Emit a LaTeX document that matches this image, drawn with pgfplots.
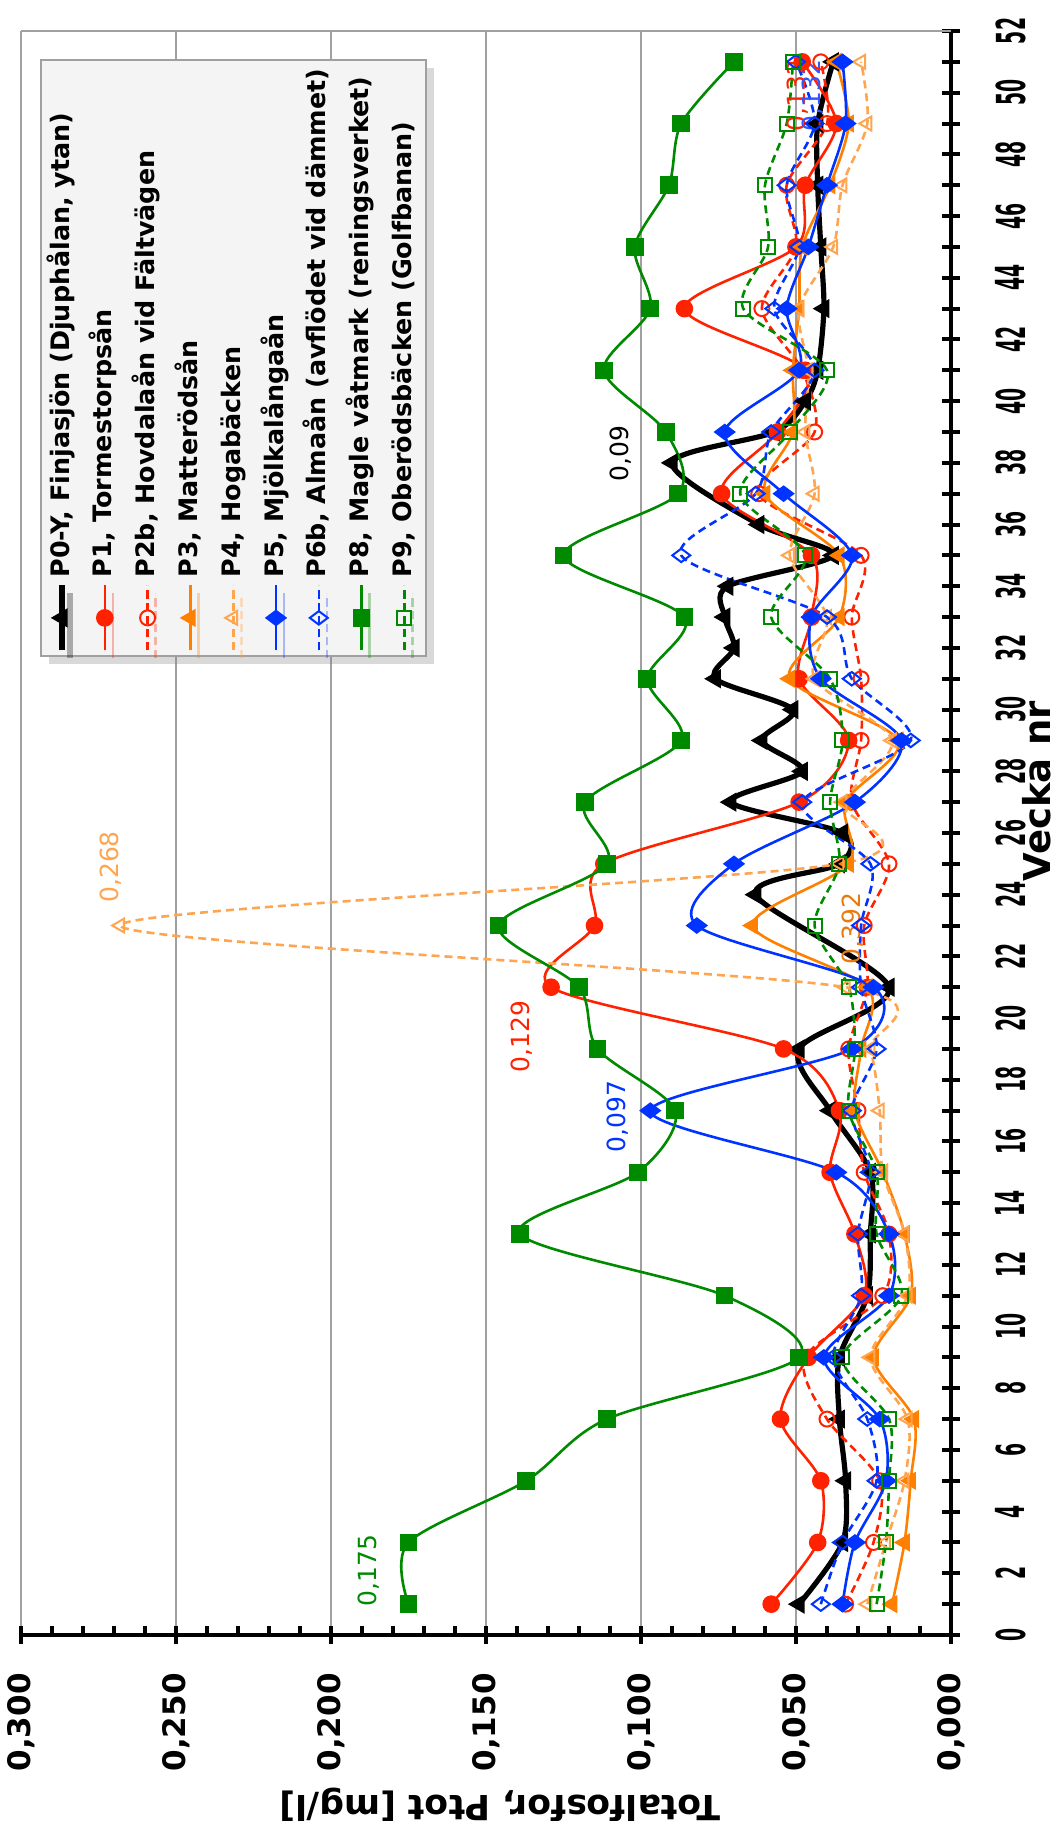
\documentclass[border=0pt]{standalone}
\usepackage{fontspec}
\setmainfont{DejaVu Sans}
\usepackage{graphicx}
\usepackage{pgfplots}
\pgfplotsset{compat=1.18}
\usetikzlibrary{shadows}

\definecolor{cRed}{HTML}{FF2200}
\definecolor{cOrange}{HTML}{FF8000}
\definecolor{cLOrange}{HTML}{FFA550}
\definecolor{cBlue}{HTML}{0033FF}
\definecolor{cLBlue}{HTML}{3355FF}
\definecolor{cGreen}{HTML}{008A00}
\definecolor{cDOrange}{HTML}{E87A10}
\definecolor{gridgray}{HTML}{A0A0A0}
\definecolor{legfill}{HTML}{F4F4F4}

\newcommand\sx[1]{\scalebox{0.47}[1]{#1}}
\newcommand\lbl{\fontsize{12.5}{13}\selectfont}

\pgfplotstableread{
x y
1 0.049
3 0.035
5 0.034
7 0.036
9 0.036
11 0.027
13 0.026
15 0.026
17 0.039
19 0.049
21 0.020
24 0.063
25 0.036
26 0.035
27 0.071
28 0.048
29 0.061
30 0.051
31 0.076
32 0.070
33 0.073
34 0.072
35 0.038
36 0.062
38 0.090
39 0.057
40 0.047
41 0.043
43 0.041
45 0.042
47 0.043
49 0.043
51 0.038
}\tPzero

% weeks, P1, P2b, P3, P4, P5, P6b, P8, P9
\pgfplotstableread{
w  pa    pb    pc    pd    pe    pf    ph    pi
1  0.058 0.034 0.019 0.027 0.035 0.042 0.175 0.024
3  0.043 0.025 0.015 0.021 0.031 0.035 0.175 0.021
5  0.042 0.023 0.013 0.015 0.021 0.024 0.137 0.020
7  0.055 0.040 0.012 0.014 0.023 0.027 0.111 0.020
9  0.046 0.047 0.025 0.026 0.041 0.038 0.049 0.035
11 0.028 0.022 0.013 0.014 0.020 0.029 0.073 0.016
13 0.031 0.020 0.015 0.015 0.020 0.030 0.139 0.024
15 0.039 0.028 0.022 0.022 0.037 0.026 0.101 0.024
17 0.036 0.030 0.031 0.023 0.097 0.032 0.089 0.033
19 0.054 0.033 0.029 0.026 0.032 0.024 0.114 0.031
21 0.129 0.027 0.027 0.034 0.025 0.029 0.120 0.033
23 0.115 0.028 0.064 0.268 0.082 0.029 0.146 0.044
25 0.112 0.020 0.033 0.036 0.070 0.026 0.111 0.036
27 0.049 0.032 0.034 0.035 0.031 0.048 0.118 0.039
29 0.033 0.029 0.017 0.019 0.016 0.013 0.087 0.035
31 0.049 0.029 0.052 0.044 0.042 0.032 0.098 0.039
33 0.045 0.032 0.036 0.040 0.045 0.040 0.086 0.058
35 0.045 0.029 0.036 0.052 0.032 0.087 0.125 0.047
37 0.074 0.062 0.060 0.044 0.054 0.063 0.088 0.068
39 0.056 0.044 0.051 0.047 0.073 0.058 0.092 0.052
41 0.047 0.048 0.051 0.046 0.049 0.044 0.112 0.040
43 0.086 0.061 0.049 0.049 0.053 0.057 0.097 0.067
45 0.050 0.050 0.048 0.038 0.046 0.049 0.102 0.059
47 0.047 0.053 0.039 0.035 0.040 0.053 0.091 0.060
49 0.037 0.040 0.033 0.027 0.034 0.044 0.087 0.053
51 0.048 0.042 0.037 0.029 0.035 0.050 0.070 0.051
}\tData

\begin{document}
\rotatebox{90}{%
\begin{tikzpicture}
\useasboundingbox (0,0) rectangle (910.5pt,529.5pt);
\begin{axis}[
  at={(93pt,54pt)}, anchor=south west,
  scale only axis, width=802pt, height=465pt,
  xmin=0, xmax=52, ymin=0, ymax=0.3,
  clip=false,
  axis x line*=bottom, axis y line*=left,
  axis line style={-, line width=2pt, black},
  xtick={0,...,52},
  xticklabels={\sx{0},,\sx{2},,\sx{4},,\sx{6},,\sx{8},,\sx{10},,\sx{12},,\sx{14},,\sx{16},,\sx{18},,\sx{20},,\sx{22},,\sx{24},,\sx{26},,\sx{28},,\sx{30},,\sx{32},,\sx{34},,\sx{36},,\sx{38},,\sx{40},,\sx{42},,\sx{44},,\sx{46},,\sx{48},,\sx{50},,\sx{52}},
  ytick={0,0.05,0.1,0.15,0.2,0.25,0.3},
  yticklabels={{0,000},{0,050},{0,100},{0,150},{0,200},{0,250},{0,300}},
  minor y tick num=4,
  ymajorgrids,
  major grid style={line width=1pt, gridgray},
  tick style={line width=2pt, black},
  major tick length=9pt, minor tick length=4.5pt,
  tick align=center,
  minor y tick style={xshift=2.25pt},
  xticklabel style={font=\fontsize{20}{20}\selectfont\bfseries, inner sep=0pt, anchor=north, yshift=-17.5pt},
  yticklabel style={font=\fontsize{15.5}{16}\selectfont\bfseries, inner sep=0pt, anchor=east, xshift=-14.5pt},
  xlabel={Vecka nr},
  xlabel style={font=\fontsize{18.5}{18.5}\selectfont\bfseries, inner sep=0pt, at={(axis description cs:0.526,0)}, anchor=base, yshift=-50pt},
  ylabel={Totalfosfor, Ptot [mg/l]},
  ylabel style={font=\fontsize{17.3}{17.3}\selectfont\bfseries, inner sep=0pt, at={(axis description cs:0,0.485)}, anchor=center, yshift=85pt},
  every axis plot/.append style={smooth, line width=1.3pt},
  legend style={at={(0.6096,0.98)}, anchor=north west, fill=legfill, draw=gridgray, line width=1pt,
    font=\fontsize{12.7}{12.7}\selectfont\bfseries, inner xsep=1.6pt, inner ysep=0pt, row sep=0pt,
    nodes={text height=10pt, text depth=3pt, inner ysep=4.2pt, inner xsep=2.7pt},
    drop shadow={shadow xshift=-4pt, shadow yshift=-4pt, opacity=0.3}},
  legend cell align=left,
  legend image code/.code={\draw[mark repeat=2, mark phase=2] plot coordinates {(0pt,0pt) (16.25pt,0pt) (32.5pt,0pt)};},
]
\draw[gridgray, line width=1pt] (axis cs:52,0) -- (axis cs:52,0.3);

\addplot[black, line width=2.6pt, mark=triangle*, mark size=3pt, mark options={solid}] table[x=x, y=y] {\tPzero};
\addlegendentry{P0-Y, Finjasjön (Djuphålan, ytan)}
\addplot[cRed, mark=*, mark size=3.75pt, mark options={solid}] table[x=w, y=pa] {\tData};
\addlegendentry{P1, Tormestorpsån}
\addplot[cRed, dash pattern=on 4pt off 2.5pt, mark=o, mark size=3.75pt, mark options={solid, line width=1pt}] table[x=w, y=pb] {\tData};
\addlegendentry{P2b, Hovdalaån vid Fältvägen}
\addplot[cOrange, mark=triangle*, mark size=4pt, mark options={solid}] table[x=w, y=pc] {\tData};
\addlegendentry{P3, Matterödsån}
\addplot[cLOrange, dash pattern=on 4pt off 2.5pt, mark=triangle, mark size=4pt, mark options={solid, line width=1pt}] table[x=w, y=pd] {\tData};
\addlegendentry{P4, Hogabäcken}
\addplot[cBlue, mark=diamond*, mark size=4.5pt, mark options={solid}] table[x=w, y=pe] {\tData};
\addlegendentry{P5, Mjölkalångaån}
\addplot[cBlue, dash pattern=on 4pt off 2.5pt, mark=diamond, mark size=4.5pt, mark options={solid, line width=1pt}] table[x=w, y=pf] {\tData};
\addlegendentry{P6b, Almaån (avflödet vid dämmet)}
\addplot[cGreen, mark=square*, mark size=3.75pt, mark options={solid}] table[x=w, y=ph] {\tData};
\addlegendentry{P8, Magle våtmark (reningsverket)}
\addplot[cGreen, dash pattern=on 4pt off 2.5pt, mark=square, mark size=3.5pt, mark options={solid, line width=1pt}] table[x=w, y=pi] {\tData};
\addlegendentry{P9, Oberödsbäcken (Golfbanan)}

\node[text=cGreen, font=\lbl] at (axis cs:2.1,0.188) {0,175};
\node[text=cBlue, font=\lbl] at (axis cs:16.8,0.1075) {0,097};
\node[text=cRed, font=\lbl] at (axis cs:19.4,0.1385) {0,129};
\node[text=cLOrange, font=\lbl] at (axis cs:24.9,0.271) {0,268};
\node[text=cDOrange, font=\lbl] at (axis cs:22.9,0.0316) {0,392};
\node[text=black, font=\lbl] at (axis cs:38.3,0.1065) {0,09};
\node[text=cRed, font=\lbl] at (axis cs:49.9,0.0493) {0,132};
\node[text=cLBlue, font=\lbl] at (axis cs:49.9,0.0445) {0,132};
\end{axis}
\end{tikzpicture}}
\end{document}
